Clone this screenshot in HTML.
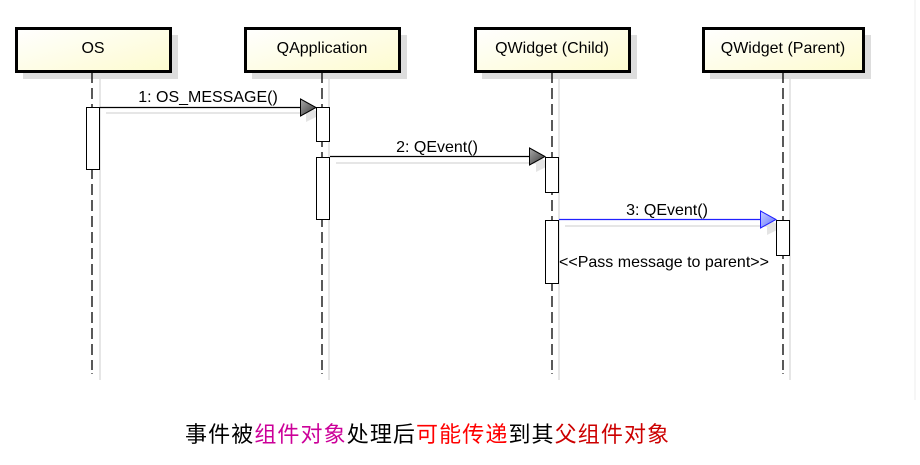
<!DOCTYPE html>
<html><head><meta charset="utf-8"><style>
html,body{margin:0;padding:0;background:#fff;}
svg{display:block;}
text{font-family:"Liberation Sans","DejaVu Sans",sans-serif;font-size:16px;fill:#000;}
.cn{font-family:"Liberation Sans","Noto Sans CJK SC",sans-serif;font-size:22px;letter-spacing:1.1px;}
</style></head><body>
<svg width="920" height="465" viewBox="0 0 920 465" xmlns="http://www.w3.org/2000/svg">
<defs>
<linearGradient id="box" x1="0" y1="0" x2="1" y2="1">
<stop offset="0" stop-color="#ffffff"/><stop offset="1" stop-color="#fdfbcf"/></linearGradient>
<linearGradient id="ah" x1="0" y1="0" x2="1" y2="1">
<stop offset="0" stop-color="#aaaaaa"/><stop offset="1" stop-color="#333"/></linearGradient>
<linearGradient id="ab" x1="0" y1="0" x2="1" y2="1">
<stop offset="0" stop-color="#c8d0ff"/><stop offset="1" stop-color="#6070ff"/></linearGradient>
</defs>
<rect x="0" y="0" width="920" height="465" fill="#fff"/>
<line x1="915" y1="0" x2="915" y2="400" stroke="#eee" stroke-width="1"/>

<g fill="#ddd">
<rect x="23" y="35" width="155" height="44"/>
<rect x="252" y="35" width="155" height="44"/>
<rect x="482" y="35" width="155" height="44"/>
<rect x="710" y="35" width="161" height="44"/>
</g>
<g stroke="#ddd" stroke-width="1.5">
<line x1="100" y1="72" x2="100" y2="380"/>
<line x1="329" y1="72" x2="329" y2="380"/>
<line x1="559" y1="72" x2="559" y2="380"/>
<line x1="790" y1="72" x2="790" y2="380"/>
</g>
<g stroke="#000" stroke-width="1.3" stroke-dasharray="11,5">
<line x1="92" y1="72" x2="92" y2="370"/>
<line x1="322" y1="72" x2="322" y2="370"/>
<line x1="552" y1="72" x2="552" y2="370"/>
<line x1="783" y1="72" x2="783" y2="370"/>
</g>
<g fill="#000"><rect x="91.5" y="373" width="1" height="1"/><rect x="321.5" y="373" width="1" height="1"/><rect x="551.5" y="373" width="1" height="1"/><rect x="782.5" y="373" width="1" height="1"/></g>

<g stroke="#000" stroke-width="3" fill="url(#box)">
<rect x="16.5" y="28.5" width="154" height="43"/>
<rect x="245.5" y="28.5" width="154" height="43"/>
<rect x="475.5" y="28.5" width="154" height="43"/>
<rect x="703.5" y="28.5" width="160" height="43"/>
</g>
<text x="93" y="53" text-anchor="middle">OS</text>
<text x="322" y="53" text-anchor="middle">QApplication</text>
<text x="552" y="53" text-anchor="middle">QWidget (Child)</text>
<text x="783" y="53" text-anchor="middle">QWidget (Parent)</text>

<g stroke="#ddd" stroke-width="1.5">
<line x1="106" y1="113" x2="312" y2="113"/>
<line x1="336" y1="163" x2="540" y2="163"/>
<line x1="565" y1="226" x2="770" y2="226"/>
</g>
<g fill="#e4e4e4">
<polygon points="306,106 322,114 306,122"/>
<polygon points="536,156 552,164 536,172"/>
<polygon points="767,219 783,227 767,235"/>
</g>

<g stroke="#000" stroke-width="1" fill="#fff">
<rect x="86.5" y="107.5" width="13" height="62"/>
<rect x="316.5" y="107.5" width="13" height="34"/>
<rect x="316.5" y="157.5" width="13" height="62"/>
<rect x="545.5" y="157.5" width="13" height="35"/>
<rect x="545.5" y="220.5" width="13" height="63"/>
<rect x="776.5" y="220.5" width="13" height="35"/>
</g>

<line x1="100" y1="107.5" x2="302" y2="107.5" stroke="#000" stroke-width="1.2"/>
<polygon points="300.5,99 316,107.5 300.5,116" fill="url(#ah)" stroke="#000" stroke-width="1"/>
<text x="208" y="102" text-anchor="middle">1: OS_MESSAGE()</text>

<line x1="330" y1="156.5" x2="530" y2="156.5" stroke="#000" stroke-width="1.2"/>
<polygon points="529.5,148 545,156.5 529.5,165" fill="url(#ah)" stroke="#000" stroke-width="1"/>
<text x="437" y="152" text-anchor="middle">2: QEvent()</text>

<line x1="559" y1="219.5" x2="761" y2="219.5" stroke="#2020ff" stroke-width="1.2"/>
<polygon points="760.5,211 776,219.5 760.5,228" fill="url(#ab)" stroke="#2020ff" stroke-width="1"/>
<text x="667" y="215" text-anchor="middle">3: QEvent()</text>

<text x="664" y="267" text-anchor="middle">&lt;&lt;Pass message to parent&gt;&gt;</text>

<text class="cn" x="185" y="442"><tspan fill="#000">事件被</tspan><tspan fill="#cc0099">组件对象</tspan><tspan fill="#000">处理后</tspan><tspan fill="#ff0000">可能传递</tspan><tspan fill="#000">到其</tspan><tspan fill="#cc0000">父组件对象</tspan></text>
</svg>
</body></html>
